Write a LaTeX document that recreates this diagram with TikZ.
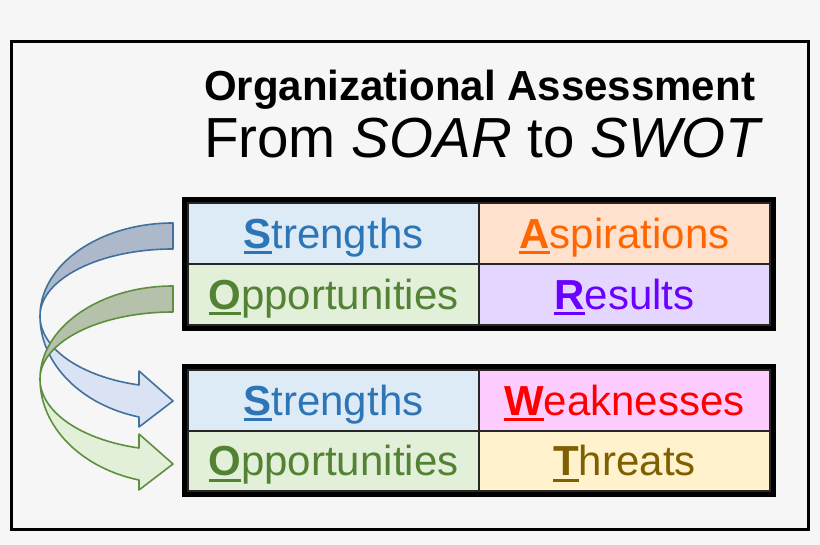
\documentclass[tikz,border=0pt]{standalone}
\usepackage{fontspec}
\setmainfont{Liberation Sans}
\usetikzlibrary{calc}
\definecolor{bgc}{HTML}{F6F6F6}
\definecolor{sfill}{HTML}{DDEBF7}
\definecolor{stext}{HTML}{2E75B6}
\definecolor{afill}{HTML}{FFE1CE}
\definecolor{atext}{HTML}{FF6600}
\definecolor{ofill}{HTML}{E2F0D9}
\definecolor{otext}{HTML}{548235}
\definecolor{rfill}{HTML}{E4D6FF}
\definecolor{rtext}{HTML}{6A00FF}
\definecolor{wfill}{HTML}{FFCCFF}
\definecolor{wtext}{HTML}{FF0000}
\definecolor{tfill}{HTML}{FFF2CC}
\definecolor{ttext}{HTML}{7F6000}
\definecolor{bline}{HTML}{41719C}
\definecolor{bdark}{HTML}{ADB9CA}
\definecolor{blight}{HTML}{DAE3F3}
\definecolor{gline}{HTML}{5E8F3F}
\definecolor{gdark}{HTML}{B5C1AA}
\definecolor{glight}{HTML}{E2F0D9}
\newcommand\initialul[1]{\setbox0\hbox{\bfseries #1}\rlap{\rule[-6pt]{\wd0}{3pt}}\box0}
\begin{document}
\begin{tikzpicture}[x=1pt,y=1pt,
  cell/.style={draw=black!85, line width=1.2pt, minimum width=291pt, inner sep=0pt,
    text height=30pt, text depth=0pt, font=\fontsize{42}{50}\selectfont},
  tableframe/.style={draw=black, line width=5pt},
  arrowband/.style={line width=1.6pt, line join=round}]
\useasboundingbox (0,0) rectangle (820,545);
\fill[bgc] (0,0) rectangle (820,545);
\draw[line width=3pt] (11.5,15.5) rectangle (808.5,503.5);

% title
\node[anchor=base west, inner sep=0pt] (t1) at (204,444)
  {\fontsize{42}{50}\selectfont\bfseries Organizational Assessment};
\node[anchor=base west, inner sep=0pt] (t2) at (204,387)
  {\fontsize{56.5}{60}\selectfont From \textit{SOAR} to \textit{SWOT}};

% blue arrow
\coordinate (bl) at (40,229);
\draw[arrowband, draw=bline, fill=bdark] (173,322)
  arc[start angle=90, end angle=180, x radius=133, y radius=93]
  arc[start angle=180, end angle=90, x radius=133, y radius=67] -- cycle;
\draw[arrowband, draw=bline, fill=blight] (bl)
  arc[start angle=180, end angle=255.2, x radius=133, y radius=104.5]
  -- (139,118) -- (173,144) -- (139,174) -- (139,160)
  arc[start angle=255.2, end angle=180, x radius=133, y radius=71.4] -- cycle;

% green arrow
\begin{scope}[yshift=-63pt]
\coordinate (gl) at (40,229);
\draw[arrowband, draw=gline, fill=gdark] (173,322)
  arc[start angle=90, end angle=180, x radius=133, y radius=93]
  arc[start angle=180, end angle=90, x radius=133, y radius=67] -- cycle;
\draw[arrowband, draw=gline, fill=glight] (gl)
  arc[start angle=180, end angle=255.2, x radius=133, y radius=104.5]
  -- (139,118) -- (173,144) -- (139,174) -- (139,160)
  arc[start angle=255.2, end angle=180, x radius=133, y radius=71.4] -- cycle;
\end{scope}

% SOAR table
\node[cell, fill=sfill, text=stext, minimum height=61pt] (s1) at (333.5,311.5) {\initialul{S}trengths};
\node[cell, fill=afill, text=atext, minimum height=61pt] (a1) at (624.5,311.5) {\initialul{A}spirations};
\node[cell, fill=ofill, text=otext, minimum height=61pt] (o1) at (333.5,250.5) {\initialul{O}pportunities};
\node[cell, fill=rfill, text=rtext, minimum height=61pt] (r1) at (624.5,250.5) {\initialul{R}esults};
\draw[tableframe] ($(s1.north west)+(-2.5,2.5)$) rectangle ($(r1.south east)+(2.5,-2.5)$);

% SWOT table
\node[cell, fill=sfill, text=stext, minimum height=61pt] (s2) at (333.5,144.5) {\initialul{S}trengths};
\node[cell, fill=wfill, text=wtext, minimum height=61pt] (w2) at (624.5,144.5) {\initialul{W}eaknesses};
\node[cell, fill=ofill, text=otext, minimum height=60pt] (o2) at (333.5,84) {\initialul{O}pportunities};
\node[cell, fill=tfill, text=ttext, minimum height=60pt] (t3) at (624.5,84) {\initialul{T}hreats};
\draw[tableframe] ($(s2.north west)+(-2.5,2.5)$) rectangle ($(t3.south east)+(2.5,-2.5)$);
\end{tikzpicture}
\end{document}
